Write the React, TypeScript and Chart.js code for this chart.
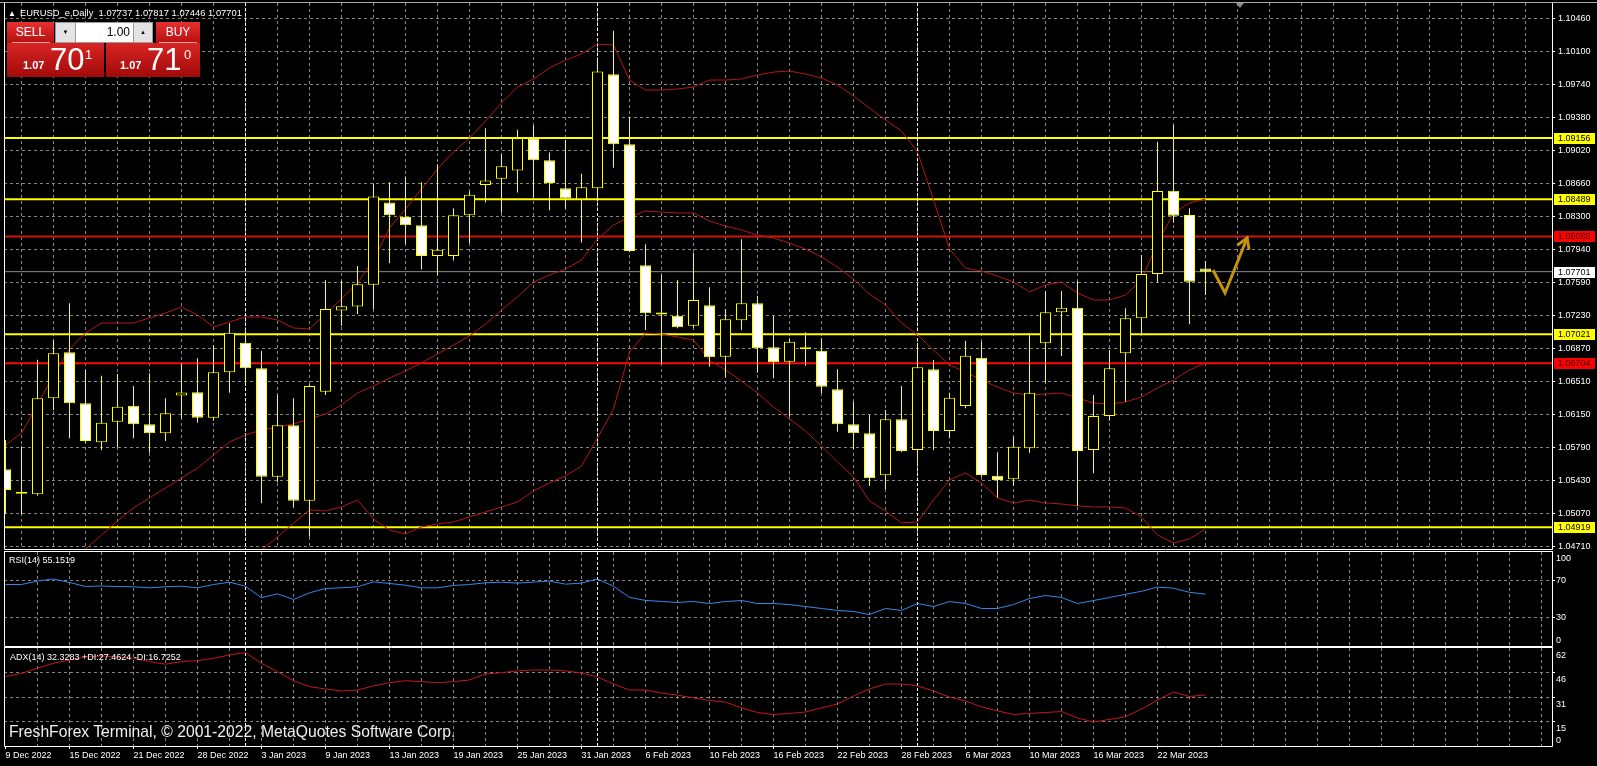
import React, { useEffect, useRef } from "react";
import { Chart, registerables } from "chart.js";

Chart.register(...registerables);

// ---------------- data ----------------
const OPEN = [
  1.05549, 1.05293, 1.05277, 1.06322, 1.06823, 1.06268, 1.05843, 1.06067, 1.06242, 1.06039,
  1.05941, 1.06353, 1.06387, 1.06111, 1.06605, 1.06928, 1.06649, 1.05469, 1.06028, 1.05207,
  1.06394, 1.07277, 1.07321, 1.0756, 1.08454, 1.08296, 1.08208, 1.07873, 1.07873, 1.08315,
  1.08646, 1.08712, 1.08804, 1.09153, 1.08914, 1.08609, 1.08491, 1.08609, 1.0985, 1.09088,
  1.0777, 1.07248, 1.07222, 1.07113, 1.07335, 1.06775, 1.07171, 1.07357, 1.06878, 1.06721,
  1.06862, 1.0684, 1.0642, 1.06039, 1.05941, 1.05484, 1.06093, 1.05759, 1.06638, 1.05966,
  1.06238, 1.06764, 1.05479, 1.0544, 1.05778, 1.06921, 1.07259, 1.07309, 1.05759, 1.06129,
  1.06812, 1.07193, 1.07676, 1.08583, 1.08318, 1.07737,
];
const HIGH = [
  1.05868, 1.05801, 1.06741, 1.06957, 1.07357, 1.0663, 1.06568, 1.06587, 1.06456, 1.06594,
  1.06322, 1.06703, 1.06758, 1.06903, 1.07139, 1.07084, 1.06837, 1.06358, 1.06322, 1.06475,
  1.07608, 1.07601, 1.07763, 1.08657, 1.08675, 1.08737, 1.08675, 1.0887, 1.08392, 1.08576,
  1.09264, 1.0898, 1.09246, 1.09294, 1.08999, 1.09135, 1.08767, 1.10029, 1.10326, 1.09389,
  1.07999, 1.07665, 1.0761, 1.07908, 1.07531, 1.07295, 1.08054, 1.0744, 1.07218, 1.06976,
  1.07041, 1.06976, 1.06638, 1.06285, 1.0614, 1.06195, 1.06456, 1.0691, 1.06739, 1.06383,
  1.06949, 1.06939, 1.05734, 1.05904, 1.0703, 1.07491, 1.07491, 1.07599, 1.06358, 1.06848,
  1.07302, 1.07883, 1.09116, 1.09298, 1.08391, 1.07817,
];
const LOW = [
  1.05062, 1.05059, 1.0526, 1.06195, 1.05887, 1.05839, 1.05759, 1.05789, 1.05887, 1.0573,
  1.05857, 1.06104, 1.06056, 1.06078, 1.06383, 1.06486, 1.05179, 1.05407, 1.05131, 1.04815,
  1.06358, 1.07112, 1.0724, 1.07295, 1.07792, 1.08006, 1.07726, 1.07663, 1.07822, 1.08013,
  1.08454, 1.08344, 1.08564, 1.0851, 1.08369, 1.08388, 1.0802, 1.08491, 1.08833, 1.07915,
  1.07066, 1.06692, 1.07085, 1.07091, 1.06666, 1.06551, 1.07066, 1.06601, 1.0654, 1.06122,
  1.06677, 1.06377, 1.05958, 1.05767, 1.05367, 1.05331, 1.05737, 1.05621, 1.05759, 1.05887,
  1.06213, 1.05469, 1.0524, 1.0537, 1.0573, 1.06492, 1.06783, 1.05149, 1.05505, 1.06078,
  1.06285, 1.0703, 1.07585, 1.08234, 1.07128, 1.07446,
];
const CLOSE = [
  1.05324, 1.05284, 1.06322, 1.06812, 1.06268, 1.05857, 1.06056, 1.06231, 1.06039, 1.05941,
  1.06159, 1.06385, 1.06111, 1.06605, 1.07036, 1.06649, 1.05469, 1.06028, 1.05207, 1.06456,
  1.07295, 1.07325, 1.07563, 1.08521, 1.08315, 1.08208, 1.07873, 1.07939, 1.08315, 1.08539,
  1.08694, 1.08848, 1.09153, 1.08914, 1.08668, 1.08499, 1.0862, 1.09882, 1.09088, 1.07926,
  1.07248, 1.07236, 1.07095, 1.07393, 1.06769, 1.07182, 1.07357, 1.06867, 1.06714, 1.06938,
  1.06856, 1.06449, 1.06039, 1.05941, 1.05451, 1.06093, 1.05748, 1.0666, 1.05966, 1.06329,
  1.06786, 1.05487, 1.05433, 1.05795, 1.06383, 1.07259, 1.07309, 1.05748, 1.06129, 1.06649,
  1.07193, 1.07676, 1.08579, 1.0831, 1.07592, 1.07701,
];
const BB_UPPER = [
  1.05814, 1.05944, 1.06249, 1.06576, 1.06859, 1.07033, 1.07142, 1.07142, 1.07142, 1.07197,
  1.07251, 1.07316, 1.07229, 1.07099, 1.07153, 1.07208, 1.07208, 1.07175, 1.07088, 1.07077,
  1.0724, 1.07404, 1.07578, 1.07828, 1.08177, 1.08384, 1.08601, 1.08819, 1.09004, 1.09157,
  1.09342, 1.09538, 1.09712, 1.09799, 1.09919, 1.10006, 1.10071, 1.1018, 1.10169, 1.09788,
  1.09679, 1.09679, 1.0969, 1.09712, 1.09788, 1.09788, 1.09799, 1.09843, 1.09875, 1.09886,
  1.09854, 1.0981, 1.09734, 1.09614, 1.09483, 1.09353, 1.09233, 1.09004, 1.08482, 1.07948,
  1.07741, 1.07708, 1.07654, 1.07589, 1.0748, 1.07556, 1.07589, 1.07469, 1.07393, 1.07393,
  1.07447, 1.0761, 1.08013, 1.0834, 1.08449, 1.08492,
];
const BB_MIDDLE = [
  1.03908, 1.04061, 1.04213, 1.04376, 1.04529, 1.04681, 1.04834, 1.04986, 1.05128, 1.05237,
  1.05346, 1.05454, 1.05563, 1.05705, 1.05846, 1.05923, 1.05977, 1.0601, 1.06042, 1.06097,
  1.06151, 1.06249, 1.0638, 1.06456, 1.06543, 1.0662, 1.06707, 1.06805, 1.06903, 1.07001,
  1.07131, 1.07284, 1.07425, 1.07589, 1.07665, 1.0773, 1.07828, 1.08057, 1.08209, 1.08296,
  1.08362, 1.08351, 1.0834, 1.0834, 1.08253, 1.08198, 1.08155, 1.081, 1.08068, 1.08013,
  1.07948, 1.07861, 1.07752, 1.07621, 1.07458, 1.07338, 1.07142, 1.07012, 1.06848, 1.06685,
  1.06609, 1.06522, 1.06445, 1.0638, 1.06358, 1.06369, 1.0638, 1.06326, 1.06271, 1.0626,
  1.06282, 1.06336, 1.06434, 1.06522, 1.0663, 1.06707,
];
const BB_LOWER = [
  1.02002, 1.02178, 1.02177, 1.02176, 1.02199, 1.02329, 1.02526, 1.0283, 1.03114, 1.03277,
  1.03441, 1.03592, 1.03897, 1.04311, 1.04539, 1.04638, 1.0467, 1.04812, 1.04964, 1.05106,
  1.05095, 1.05139, 1.05215, 1.05008, 1.04888, 1.04845, 1.04921, 1.04954, 1.04975, 1.0503,
  1.05084, 1.05139, 1.05193, 1.05313, 1.054, 1.05476, 1.05585, 1.0589, 1.06206, 1.06826,
  1.07033, 1.07022, 1.0699, 1.06957, 1.06739, 1.0663, 1.06511, 1.0638, 1.06228, 1.06097,
  1.05966, 1.05803, 1.05629, 1.05465, 1.05204, 1.05095, 1.04964, 1.04975, 1.05215, 1.05433,
  1.05509, 1.054, 1.05237, 1.05182, 1.05215, 1.05182, 1.05171, 1.0515, 1.05139, 1.05139,
  1.05128, 1.0503, 1.04834, 1.04747, 1.0479, 1.04899,
];
const RSI = [
  65.4, 65.4, 69.1, 71.3, 67.6, 63.3, 63.8, 63.3, 63.0, 61.9,
  63.0, 63.6, 61.9, 65.4, 67.9, 63.6, 51.3, 55.5, 49.5, 56.6,
  61.2, 61.9, 63.0, 68.3, 66.5, 64.7, 61.9, 61.9, 64.4, 65.4,
  67.2, 67.9, 66.9, 68.0, 69.1, 65.8, 66.9, 71.3, 63.6, 51.7,
  48.5, 47.4, 46.3, 47.4, 45.2, 47.3, 48.4, 45.2, 45.2, 44.1,
  42.0, 39.9, 37.8, 36.7, 33.5, 39.9, 37.8, 45.2, 42.0, 47.3,
  45.2, 39.9, 39.9, 44.1, 50.5, 53.7, 51.6, 45.2, 48.4, 51.6,
  55.0, 58.2, 62.6, 61.5, 57.1, 55.15,
];
const ADX = [
  43.9, 45.9, 49.2, 52.3, 54.4, 56.3, 57.0, 56.3, 55.5, 53.4,
  51.7, 53.4, 54.0, 55.5, 57.6, 59.1, 52.3, 47.0, 41.3, 37.5,
  36.1, 34.8, 35.4, 38.0, 40.1, 41.3, 40.7, 40.1, 40.7, 41.8,
  45.6, 46.4, 47.5, 48.1, 48.1, 47.5, 46.2, 43.7, 39.2, 35.4,
  35.4, 33.5, 32.2, 30.4, 28.8, 27.8, 24.1, 21.2, 19.9, 20.6,
  21.5, 24.1, 26.6, 31.6, 36.1, 39.2, 39.2, 38.0, 34.8, 31.0,
  28.5, 24.7, 22.2, 19.9, 20.6, 21.2, 21.8, 17.7, 15.2, 16.8,
  18.5, 23.4, 29.1, 34.2, 31.3, 32.33,
];
const DATE_LABELS = [
  "9 Dec 2022", "15 Dec 2022", "21 Dec 2022", "28 Dec 2022", "3 Jan 2023", "9 Jan 2023",
  "13 Jan 2023", "19 Jan 2023", "25 Jan 2023", "31 Jan 2023", "6 Feb 2023", "10 Feb 2023",
  "16 Feb 2023", "22 Feb 2023", "28 Feb 2023", "6 Mar 2023", "10 Mar 2023", "16 Mar 2023",
  "22 Mar 2023",
];
const DATE_LABEL_STEP = 4; // bars between date labels
const GRID_STEP = 2; // bars between vertical grid lines
const SEPARATOR_BARS = [15, 37, 57]; // first bar of Jan, Feb, Mar
const PRICE_TICK_LABELS = [
  "1.10460", "1.10100", "1.09740", "1.09380", "1.09020", "1.08660", "1.08300", "1.07940", "1.07590",
  "1.07230", "1.06870", "1.06510", "1.06150", "1.05790", "1.05430", "1.05070", "1.04710",
];
const MAIN_Y_MAX = 1.10627;
const MAIN_Y_MIN = 1.04681;
const YELLOW_LEVELS = [1.09156, 1.08489, 1.07021, 1.04919];
const RED_LEVELS = [1.08085, 1.06704];
const BID_PRICE = 1.07701;
const RSI_LABELS = [100, 70, 30, 0];
const RSI_GRID = [70, 30];
const ADX_MAX = 62;
const ADX_GRID = [46.5, 31, 15.5];
const ADX_LABELS = ["62", "46", "31", "15", "0"];
const ADX_LABEL_VALUES = [62, 46.5, 31, 15.5, 0];
const ARROW_BARS = [75.47, 76.22, 77.6];
const ARROW_PRICES = [1.07719, 1.07469, 1.08068];

// ---------------- layout / style ----------------
const W = 1597;
const H = 766;
const FONT = "'Liberation Sans', Arial, Helvetica, sans-serif";
const PLOT_LEFT = 4;
const AXIS_W = 45;
const BAR_PX = 16;
const FIRST_BAR_X = 5.5;
const X_MIN = -(FIRST_BAR_X - PLOT_LEFT) / BAR_PX;
const X_MAX = X_MIN + (W - AXIS_W - PLOT_LEFT) / BAR_PX;
const GRID_COLOR = "#858585";
const YELLOW = "#ffff00";
const BB_COLOR = "#b41616";
const RED_LEVEL_COLORS = ["#d01313", "#ff0a0a"];
const RSI_COLOR = "#3588ea";
const ADX_COLOR = "#c41818";
const ARROW_COLOR = "#c4940c";
const TEXT = "#ffffff";

const PRICE_TOP = parseFloat(PRICE_TICK_LABELS[0]);
const PRICE_BOTTOM = parseFloat(PRICE_TICK_LABELS[PRICE_TICK_LABELS.length - 1]);
const PRICE_TICK_VALUES = PRICE_TICK_LABELS.map(
  (_, i) => PRICE_TOP - (i * (PRICE_TOP - PRICE_BOTTOM)) / (PRICE_TICK_LABELS.length - 1)
);

function dateLabel(v: number): string {
  if (v % DATE_LABEL_STEP !== 0) return "";
  const k = v / DATE_LABEL_STEP;
  return k >= 0 && k < DATE_LABELS.length ? DATE_LABELS[k] : "";
}

function zeroPad(s: any) {
  s.paddingTop = 0;
  s.paddingBottom = 0;
  s.paddingLeft = 0;
  s.paddingRight = 0;
}

function xScale(showLabels: boolean, axisHeight: number) {
  return {
    type: "linear",
    min: X_MIN,
    max: X_MAX,
    offset: false,
    afterBuildTicks: (s: any) => {
      const t: any[] = [];
      for (let v = 0; v <= X_MAX; v += GRID_STEP) t.push({ value: v });
      s.ticks = t;
    },
    afterFit: (s: any) => {
      s.height = axisHeight;
      zeroPad(s);
    },
    grid: {
      color: (c: any) => (c.tick && c.tick.value === 0 ? "rgba(0,0,0,0)" : GRID_COLOR),
      lineWidth: 1,
      drawTicks: showLabels,
      tickLength: 3,
      tickBorderDash: [],
      tickColor: (c: any) => (c.tick && dateLabel(c.tick.value) ? TEXT : "rgba(0,0,0,0)"),
    },
    border: { display: false, dash: [3, 3] },
    ticks: {
      display: showLabels,
      autoSkip: false,
      maxRotation: 0,
      minRotation: 0,
      align: "start",
      padding: 1,
      color: TEXT,
      font: { family: FONT, size: 9 },
      callback: (v: any) => dateLabel(Number(v)),
    },
  };
}

function drawSeparators(chart: any) {
  const { ctx, chartArea: a, scales } = chart;
  ctx.save();
  ctx.strokeStyle = "#ffffff";
  ctx.lineWidth = 1;
  ctx.setLineDash([3, 2]);
  for (const b of SEPARATOR_BARS) {
    const px = Math.floor(scales.x.getPixelForValue(b)) + 0.5;
    ctx.beginPath();
    ctx.moveTo(px, a.top);
    ctx.lineTo(px, a.bottom);
    ctx.stroke();
  }
  ctx.restore();
}

function drawBorder(chart: any, topColor: string) {
  const { ctx, chartArea: a } = chart;
  ctx.save();
  ctx.lineWidth = 1;
  ctx.setLineDash([]);
  ctx.strokeStyle = "#ffffff";
  ctx.beginPath();
  ctx.moveTo(a.left + 0.5, a.top - 0.5);
  ctx.lineTo(a.left + 0.5, a.bottom + 0.5);
  ctx.lineTo(a.right + 0.5, a.bottom + 0.5);
  ctx.lineTo(a.right + 0.5, a.top - 0.5);
  ctx.stroke();
  ctx.strokeStyle = topColor;
  ctx.beginPath();
  ctx.moveTo(a.left, a.top - 0.5);
  ctx.lineTo(a.right + 1, a.top - 0.5);
  ctx.stroke();
  ctx.restore();
}

function priceBox(chart: any, value: number, bg: string, fg: string) {
  const { ctx, chartArea: a, scales } = chart;
  const y = Math.round(scales.y.getPixelForValue(value));
  ctx.fillStyle = bg;
  ctx.fillRect(a.right + 2, y - 5, 41, 11);
  ctx.fillStyle = fg;
  ctx.font = `9px ${FONT}`;
  ctx.textAlign = "left";
  ctx.textBaseline = "middle";
  ctx.fillText(value.toFixed(5), a.right + 6, y + 0.5);
}

const mainPlugin = {
  id: "mainDecor",
  beforeDatasetsDraw(chart: any) {
    drawSeparators(chart);
  },
  afterDatasetsDraw(chart: any) {
    const { ctx, scales } = chart;
    const pts = ARROW_BARS.map((b, i) => ({
      x: scales.x.getPixelForValue(b),
      y: scales.y.getPixelForValue(ARROW_PRICES[i]),
    }));
    ctx.save();
    ctx.strokeStyle = ARROW_COLOR;
    ctx.lineWidth = 3;
    ctx.lineJoin = "miter";
    ctx.lineCap = "butt";
    ctx.beginPath();
    ctx.moveTo(pts[0].x, pts[0].y);
    for (let i = 1; i < pts.length; i++) ctx.lineTo(pts[i].x, pts[i].y);
    ctx.stroke();
    const p = pts[pts.length - 1];
    const q = pts[pts.length - 2];
    const ang = Math.atan2(p.y - q.y, p.x - q.x);
    const L = 12;
    ctx.beginPath();
    ctx.moveTo(p.x - L * Math.cos(ang - 0.55), p.y - L * Math.sin(ang - 0.55));
    ctx.lineTo(p.x, p.y);
    ctx.lineTo(p.x - L * Math.cos(ang + 0.55), p.y - L * Math.sin(ang + 0.55));
    ctx.stroke();
    ctx.restore();
  },
  afterDraw(chart: any) {
    drawBorder(chart, "#a8a8a8");
    const { ctx } = chart;
    ctx.save();
    ctx.fillStyle = "#a8a8a8";
    ctx.fillRect(0, 2, W, 1);
    YELLOW_LEVELS.forEach((v) => priceBox(chart, v, YELLOW, "#000000"));
    RED_LEVELS.forEach((v) => priceBox(chart, v, "#ff0000", "#3a0000"));
    priceBox(chart, BID_PRICE, "#ffffff", "#000000");
    ctx.restore();
  },
};

function panelPlugin(labels: string[], values: number[], mode: "rsi" | "adx") {
  return {
    id: "panelDecor",
    beforeDatasetsDraw(chart: any) {
      drawSeparators(chart);
    },
    afterDraw(chart: any) {
      drawBorder(chart, "#ffffff");
      const { ctx, chartArea: a, scales } = chart;
      ctx.save();
      ctx.fillStyle = TEXT;
      ctx.font = `9px ${FONT}`;
      ctx.textAlign = "left";
      const max = scales.y.max;
      const min = scales.y.min;
      values.forEach((v, i) => {
        let y = scales.y.getPixelForValue(v);
        if (v === max) {
          ctx.textBaseline = "top";
          y = a.top + (mode === "rsi" ? 2 : 3);
        } else if (v === min) {
          ctx.textBaseline = "bottom";
          y = a.bottom - 1;
        } else if (mode === "rsi") {
          ctx.textBaseline = "middle";
        } else {
          ctx.textBaseline = "top";
          y += 3;
        }
        ctx.fillText(labels[i], a.right + 4, y);
      });
      ctx.restore();
    },
  };
}

function yPanel(min: number, max: number, grid: number[]) {
  return {
    type: "linear",
    position: "right",
    min,
    max,
    afterBuildTicks: (s: any) => {
      s.ticks = grid.map((v) => ({ value: v }));
    },
    afterFit: (s: any) => {
      s.width = AXIS_W;
      zeroPad(s);
    },
    grid: { color: GRID_COLOR, drawTicks: true, tickLength: 3, tickColor: TEXT, tickBorderDash: [] },
    border: { display: false, dash: [3, 3] },
    ticks: { display: false },
  };
}

const baseOptions = (padTop: number) => ({
  responsive: false,
  maintainAspectRatio: false,
  animation: false,
  events: [],
  layout: { padding: { left: PLOT_LEFT, right: 0, top: padTop, bottom: 0 } },
  plugins: { legend: { display: false }, tooltip: { enabled: false } },
});

function lineSet(values: number[], color: string, order: number) {
  return {
    type: "line",
    data: values.map((v, i) => ({ x: i, y: v })),
    borderColor: color,
    borderWidth: 1,
    pointRadius: 0,
    tension: 0,
    fill: false,
    order,
  };
}

function levelSet(value: number, color: string, width: number) {
  return {
    type: "line",
    data: [
      { x: X_MIN, y: value },
      { x: X_MAX, y: value },
    ],
    borderColor: color,
    borderWidth: width,
    pointRadius: 0,
    fill: false,
    order: 5,
  };
}

function mainConfig(): any {
  return {
    type: "bar",
    data: {
      datasets: [
        ...YELLOW_LEVELS.map((v) => levelSet(v, YELLOW, 2)),
        ...RED_LEVELS.map((v, i) => levelSet(v, RED_LEVEL_COLORS[i], 2)),
        levelSet(BID_PRICE, "#8c8c8c", 1),
        lineSet(BB_UPPER, BB_COLOR, 3),
        lineSet(BB_MIDDLE, BB_COLOR, 3),
        lineSet(BB_LOWER, BB_COLOR, 3),
        {
          type: "bar",
          data: HIGH.map((h, i) => ({ x: i, y: [LOW[i], h] })),
          backgroundColor: YELLOW,
          borderWidth: 0,
          barThickness: 1,
          maxBarThickness: 1,
          grouped: false,
          inflateAmount: 0,
          order: 1,
        },
        {
          type: "bar",
          data: OPEN.map((o, i) => ({ x: i, y: [o, CLOSE[i]] })),
          backgroundColor: OPEN.map((o, i) => (CLOSE[i] < o ? "#ffffff" : "#000000")),
          borderColor: YELLOW,
          borderWidth: 1,
          borderSkipped: false,
          barThickness: 11,
          maxBarThickness: 11,
          minBarLength: 2,
          grouped: false,
          inflateAmount: 0,
          order: 0,
        },
      ],
    },
    options: {
      ...baseOptions(3),
      scales: {
        x: xScale(false, 1),
        y: {
          type: "linear",
          position: "right",
          min: MAIN_Y_MIN,
          max: MAIN_Y_MAX,
          afterBuildTicks: (s: any) => {
            s.ticks = PRICE_TICK_VALUES.map((v) => ({ value: v }));
          },
          afterFit: (s: any) => {
            s.width = AXIS_W;
            zeroPad(s);
          },
          grid: { color: GRID_COLOR, drawTicks: true, tickLength: 3, tickColor: TEXT, tickBorderDash: [] },
          border: { display: false, dash: [3, 3] },
          ticks: {
            color: TEXT,
            padding: 3,
            font: { family: FONT, size: 9 },
            callback: (_v: any, i: number) => PRICE_TICK_LABELS[i],
          },
        },
      },
    },
    plugins: [mainPlugin],
  };
}

function rsiConfig(): any {
  return {
    type: "line",
    data: { datasets: [lineSet(RSI, RSI_COLOR, 0)] },
    options: {
      ...baseOptions(2),
      scales: { x: xScale(false, 2), y: yPanel(0, 100, RSI_GRID) },
    },
    plugins: [panelPlugin(RSI_LABELS.map(String), RSI_LABELS, "rsi")],
  };
}

function adxConfig(): any {
  return {
    type: "line",
    data: { datasets: [lineSet(ADX, ADX_COLOR, 0)] },
    options: {
      ...baseOptions(1),
      scales: { x: xScale(true, 20), y: yPanel(0, ADX_MAX, ADX_GRID) },
    },
    plugins: [panelPlugin(ADX_LABELS, ADX_LABEL_VALUES, "adx")],
  };
}

const abs = (o: any): any => ({ position: "absolute", ...o });
const redGrad = "linear-gradient(#e53030, #b80f0f)";
const redGradDark = "linear-gradient(#d82424, #a20a0a)";

export default function App() {
  const mainRef = useRef<HTMLCanvasElement>(null);
  const rsiRef = useRef<HTMLCanvasElement>(null);
  const adxRef = useRef<HTMLCanvasElement>(null);

  useEffect(() => {
    document.body.style.margin = "0";
    document.body.style.background = "#000";
    const charts = [
      new Chart(mainRef.current as HTMLCanvasElement, mainConfig()),
      new Chart(rsiRef.current as HTMLCanvasElement, rsiConfig()),
      new Chart(adxRef.current as HTMLCanvasElement, adxConfig()),
    ];
    return () => charts.forEach((c) => c.destroy());
  }, []);

  return (
    <div style={{ position: "relative", width: W, height: H, background: "#000", overflow: "hidden", fontFamily: FONT }}>
      <canvas ref={mainRef} width={W} height={550} style={abs({ left: 0, top: 0 })} />
      <canvas ref={rsiRef} width={W} height={98} style={abs({ left: 0, top: 550 })} />
      <canvas ref={adxRef} width={W} height={119} style={abs({ left: 0, top: 647 })} />

      {/* header */}
      <div style={abs({ left: 8, top: 7, color: TEXT, fontSize: 9.4, lineHeight: "12px", whiteSpace: "pre" })}>
        <span style={{ fontSize: 8, marginRight: 4 }}>▲</span>
        {"EURUSD_e,Daily  1.07737 1.07817 1.07446 1.07701"}
      </div>
      <div style={abs({ left: 1236, top: 3, width: 0, height: 0, borderLeft: "4px solid transparent", borderRight: "4px solid transparent", borderTop: "5px solid #8a8a8a" })} />

      {/* one click trading panel */}
      <div style={abs({ left: 7, top: 22, width: 47, height: 21, background: redGrad, color: "#fff", fontSize: 12, fontFamily: "'Liberation Sans Narrow', " + FONT, textAlign: "center", lineHeight: "21px" })}>SELL</div>
      <div style={abs({ left: 12, top: 42, width: 38, height: 1, background: "#f3a0a0" })} />
      <div style={abs({ left: 55, top: 22, width: 98, height: 21, background: "#9a9a9a" })} />
      <div style={abs({ left: 56, top: 23, width: 19, height: 19, background: "#e4e4e4", fontSize: 6, textAlign: "center", lineHeight: "19px", color: "#000" })}>▼</div>
      <div style={abs({ left: 76, top: 23, width: 54, height: 19, paddingRight: 3, background: "#ffffff", fontSize: 12, textAlign: "right", lineHeight: "19px", color: "#000" })}>1.00</div>
      <div style={abs({ left: 134, top: 23, width: 18, height: 19, background: "#e4e4e4", fontSize: 6, textAlign: "center", lineHeight: "19px", color: "#000" })}>▲</div>
      <div style={abs({ left: 156, top: 22, width: 44, height: 21, background: redGrad, color: "#fff", fontSize: 12, fontFamily: "'Liberation Sans Narrow', " + FONT, textAlign: "center", lineHeight: "21px" })}>BUY</div>
      <div style={abs({ left: 159, top: 42, width: 38, height: 1, background: "#f3a0a0" })} />

      <div style={abs({ left: 7, top: 43, width: 97, height: 34, background: redGradDark, color: "#fff" })}>
        <span style={abs({ left: 16, top: 16, fontSize: 11, fontWeight: "bold" })}>1.07</span>
        <span style={abs({ left: 43, top: 0, fontSize: 31, lineHeight: "34px" })}>70</span>
        <span style={abs({ left: 78, top: 4, fontSize: 13 })}>1</span>
      </div>
      <div style={abs({ left: 106, top: 43, width: 94, height: 34, background: redGradDark, color: "#fff" })}>
        <span style={abs({ left: 14, top: 16, fontSize: 11, fontWeight: "bold" })}>1.07</span>
        <span style={abs({ left: 41, top: 0, fontSize: 31, lineHeight: "34px" })}>71</span>
        <span style={abs({ left: 78, top: 4, fontSize: 13 })}>0</span>
      </div>

      {/* indicator captions */}
      <div style={abs({ left: 9, top: 555, color: TEXT, fontSize: 9, lineHeight: "11px", whiteSpace: "pre" })}>RSI(14) 55.1519</div>
      <div style={abs({ left: 10, top: 652, color: TEXT, fontSize: 9, lineHeight: "11px", whiteSpace: "pre" })}>ADX(14) 32.3283 +DI:27.4624 -DI:16.7252</div>
      <div style={abs({ left: 9, top: 722, color: "#f0f0f0", fontSize: 15.7, lineHeight: "20px", whiteSpace: "pre" })}>FreshForex Terminal, © 2001-2022, MetaQuotes Software Corp.</div>
    </div>
  );
}
